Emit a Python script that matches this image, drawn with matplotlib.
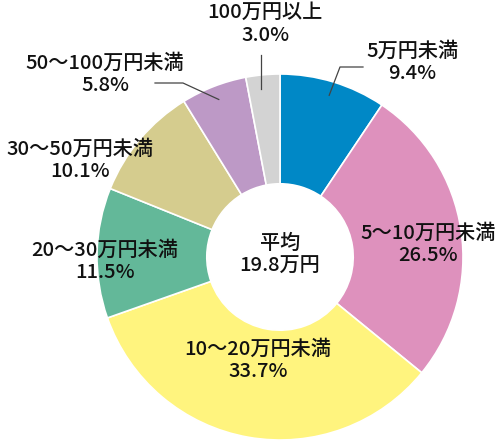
import numpy as np
import matplotlib
matplotlib.use('Agg')
import matplotlib.pyplot as plt

plt.rcParams['font.family'] = ['Noto Sans CJK JP', 'DejaVu Sans']

# data
categories = ['5万円未満', '5～10万円未満', '10～20万円未満', '20～30万円未満',
              '30～50万円未満', '50～100万円未満', '100万円以上']
shares = [9.4, 26.5, 33.7, 11.5, 10.1, 5.8, 3.0]
colors = ['#0088c6', '#de91bd', '#fff47e', '#63b899', '#d5cc8e', '#bd99c6', '#d3d3d3']
center_text = '平均\n19.8万円'

W, H = 500, 443
cx, cy = 280, H - 257
R = 183

fig = plt.figure(figsize=(5, 4.43), dpi=100)
ax = fig.add_axes([0, 0, 1, 1])

wedges, _ = ax.pie(shares, colors=colors, startangle=90, counterclock=False,
                   radius=R, center=(cx, cy),
                   wedgeprops=dict(width=R * 0.6, edgecolor='white', linewidth=1.2))
ax.set_xlim(0, W)
ax.set_ylim(0, H)
ax.set_aspect('equal')
ax.axis('off')

# label positions in image pixels (x, y from top)
label_pos = [(412, 62), (428, 244), (258, 360), (105, 261),
             (80, 160), (105, 74), (265, 24)]
# leader elbows for the small outside labels
leaders = {0: [(340, 67), (363, 67)],
           5: [(183, 83), (155, 83)],
           6: [(261, 55)]}

txt = dict(ha='center', va='center', fontsize=14.5, fontweight='medium',
           linespacing=1.25, color='#111111')

for i, (name, val) in enumerate(zip(categories, shares)):
    x, y = label_pos[i]
    ax.text(x, H - y, f'{name}\n{val:.1f}%', **txt)
    if i in leaders:
        w = wedges[i]
        ang = np.deg2rad((w.theta1 + w.theta2) / 2)
        r0 = R - 14
        pts = [(cx + r0 * np.cos(ang), cy + r0 * np.sin(ang))]
        pts += [(px, H - py) for px, py in leaders[i]]
        if i == 6:
            pts[0] = (leaders[i][0][0], pts[0][1])
        xs, ys = zip(*pts)
        ax.plot(xs, ys, color='#444444', lw=0.9)

ax.text(cx, cy + 2, center_text, **txt)

fig.savefig('out.png', dpi=100)
